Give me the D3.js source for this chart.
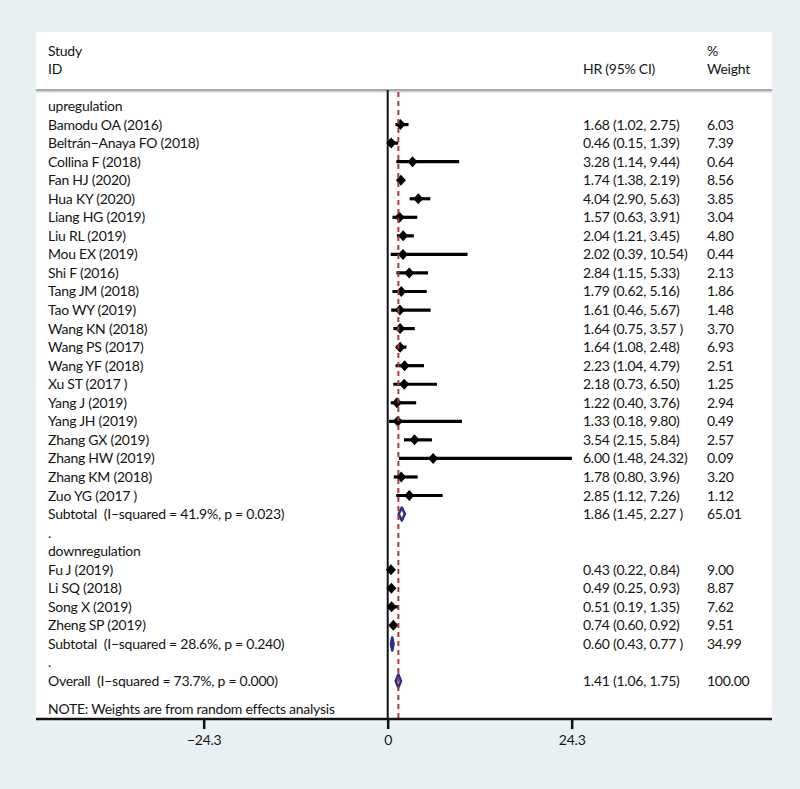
<!DOCTYPE html>
<html><head><meta charset="utf-8">
<script src="https://cdn.jsdelivr.net/npm/d3@7"></script>
<style>
html,body{margin:0;padding:0;background:#e9f0f4;}
svg{display:block;}
text{font-family:Lato,"Noto Sans",sans-serif;font-size:14px;fill:#141414;letter-spacing:-0.25px;white-space:pre;}
</style></head>
<body>
<script>
// ---- data ----
const rowLabels = [
 "upregulation",
 "Bamodu OA (2016)","Beltrán−Anaya FO (2018)","Collina F (2018)","Fan HJ (2020)","Hua KY (2020)",
 "Liang HG (2019)","Liu RL (2019)","Mou EX (2019)","Shi F (2016)","Tang JM (2018)","Tao WY (2019)",
 "Wang KN (2018)","Wang PS (2017)","Wang YF (2018)","Xu ST (2017 )","Yang J (2019)","Yang JH (2019)",
 "Zhang GX (2019)","Zhang HW (2019)","Zhang KM (2018)","Zuo YG (2017 )",
 "Subtotal  (I−squared = 41.9%, p = 0.023)",
 ".",
 "downregulation",
 "Fu J (2019)","Li SQ (2018)","Song X (2019)","Zheng SP (2019)",
 "Subtotal  (I−squared = 28.6%, p = 0.240)",
 ".",
 "Overall  (I−squared = 73.7%, p = 0.000)"
];
const rowKinds = [
 "group",
 "study","study","study","study","study","study","study","study","study","study","study",
 "study","study","study","study","study","study","study","study","study","study",
 "subtotal","blank","group",
 "study","study","study","study",
 "subtotal","blank","overall"
];
const hrValues = [null,1.68,0.46,3.28,1.74,4.04,1.57,2.04,2.02,2.84,1.79,1.61,1.64,1.64,2.23,2.18,1.22,1.33,3.54,6.00,1.78,2.85,1.86,null,null,0.43,0.49,0.51,0.74,0.60,null,1.41];
const ciLower  = [null,1.02,0.15,1.14,1.38,2.90,0.63,1.21,0.39,1.15,0.62,0.46,0.75,1.08,1.04,0.73,0.40,0.18,2.15,1.48,0.80,1.12,1.45,null,null,0.22,0.25,0.19,0.60,0.43,null,1.06];
const ciUpper  = [null,2.75,1.39,9.44,2.19,5.63,3.91,3.45,10.54,5.33,5.16,5.67,3.57,2.48,4.79,6.50,3.76,9.80,5.84,24.32,3.96,7.26,2.27,null,null,0.84,0.93,1.35,0.92,0.77,null,1.75];
const weights  = [null,6.03,7.39,0.64,8.56,3.85,3.04,4.80,0.44,2.13,1.86,1.48,3.70,6.93,2.51,1.25,2.94,0.49,2.57,0.09,3.20,1.12,65.01,null,null,9.00,8.87,7.62,9.51,34.99,null,100.00];
const spacedClose = [12,22,29]; // rows printed with "x.xx )"
const tickValues = [-24.3, 0, 24.3];
const overallHR = 1.41;
const noteText = "NOTE: Weights are from random effects analysis";

// ---- layout ----
const W = 800, H = 789;
const panel = {x0:36, x1:772, y0:32, y1:719};
const svg = d3.select("body").append("svg").attr("width",W).attr("height",H);

svg.append("rect").attr("x",panel.x0).attr("y",panel.y0)
  .attr("width",panel.x1-panel.x0).attr("height",panel.y1-panel.y0).attr("fill","#ffffff");

const x = d3.scaleLinear().domain([-24.3,24.3]).range([203.7,571.7]);
const y = d3.scaleLinear().domain([0,rowLabels.length-1]).range([111,686]);
const cy = i => y(i)-5;

// header
const hdr = svg.append("g");
hdr.append("text").attr("x",48).attr("y",56).text("Study");
hdr.append("text").attr("x",48).attr("y",74).text("ID");
hdr.append("text").attr("x",583).attr("y",74).text("HR (95% CI)");
hdr.append("text").attr("x",707).attr("y",56).text("%");
hdr.append("text").attr("x",707).attr("y",74).text("Weight");
svg.append("line").attr("x1",panel.x0).attr("x2",panel.x1).attr("y1",91.5).attr("y2",91.5)
  .attr("stroke","#d4d6d8").attr("stroke-width",2);
svg.append("line").attr("x1",panel.x0).attr("x2",panel.x1).attr("y1",90).attr("y2",90)
  .attr("stroke","#a7a9ab").attr("stroke-width",2);

// zero line
svg.append("line").attr("x1",x(0)).attr("x2",x(0)).attr("y1",90).attr("y2",panel.y1)
  .attr("stroke","#111").attr("stroke-width",2);

const idx = d3.range(rowLabels.length);

// labels
svg.append("g").selectAll("text").data(idx).join("text")
  .attr("x",48).attr("y",i=>y(i)).text(i=>rowLabels[i]);

const fmt = d3.format(".2f");
const hasVal = idx.filter(i=>hrValues[i]!==null);
svg.append("g").selectAll("text").data(hasVal).join("text")
  .attr("x",583).attr("y",i=>y(i))
  .text(i=>`${fmt(hrValues[i])} (${fmt(ciLower[i])}, ${fmt(ciUpper[i])}${spacedClose.includes(i)?" )":")"}`);
svg.append("g").selectAll("text").data(hasVal).join("text")
  .attr("x",707).attr("y",i=>y(i)).text(i=>fmt(weights[i]));

// study CIs and markers
const studies = idx.filter(i=>rowKinds[i]==="study");
svg.append("g").selectAll("line").data(studies).join("line")
  .attr("x1",i=>x(ciLower[i])).attr("x2",i=>x(ciUpper[i]))
  .attr("y1",i=>cy(i)).attr("y2",i=>cy(i))
  .attr("stroke","#000").attr("stroke-width",3.2);
svg.append("g").selectAll("path").data(studies).join("path")
  .attr("d",i=>{const cx=x(hrValues[i]),c=cy(i);return `M${cx-5},${c}L${cx},${c-5.5}L${cx+5},${c}L${cx},${c+5.5}Z`;})
  .attr("fill","#000");

// pooled diamonds
const pooled = idx.filter(i=>rowKinds[i]==="subtotal"||rowKinds[i]==="overall");
svg.append("g").selectAll("path").data(pooled).join("path")
  .attr("d",i=>{const c=cy(i);return `M${x(ciLower[i])},${c}L${x(hrValues[i])},${c-6.5}L${x(ciUpper[i])},${c}L${x(hrValues[i])},${c+6.5}Z`;})
  .attr("fill","none").attr("stroke","#2a2f8c").attr("stroke-width",2.6).attr("stroke-linejoin","round");

// overall dashed line
svg.append("line").attr("x1",x(overallHR)).attr("x2",x(overallHR)).attr("y1",92).attr("y2",panel.y1)
  .attr("stroke","#b3363a").attr("stroke-width",2).attr("stroke-dasharray","5,4");

// note
svg.append("text").attr("x",48).attr("y",714).text(noteText);

// axis
const axis = svg.append("g").attr("transform",`translate(0,${panel.y1})`)
  .call(d3.axisBottom(x).tickValues(tickValues).tickFormat(d3.format(".1f")).tickSize(10).tickSizeOuter(0));
axis.select(".domain").remove();
axis.selectAll(".tick line").attr("stroke","#111").attr("stroke-width",2.5);
axis.selectAll(".tick text").attr("dy",0).attr("y",26).style("font-size","14px").style("font-family","Lato,'Noto Sans',sans-serif").attr("fill","#141414")
  .text(d=>d===0?"0":d3.format(".1f")(d));
svg.append("line").attr("x1",panel.x0).attr("x2",panel.x1).attr("y1",panel.y1).attr("y2",panel.y1)
  .attr("stroke","#111").attr("stroke-width",2.5);
</script>
</body></html>
